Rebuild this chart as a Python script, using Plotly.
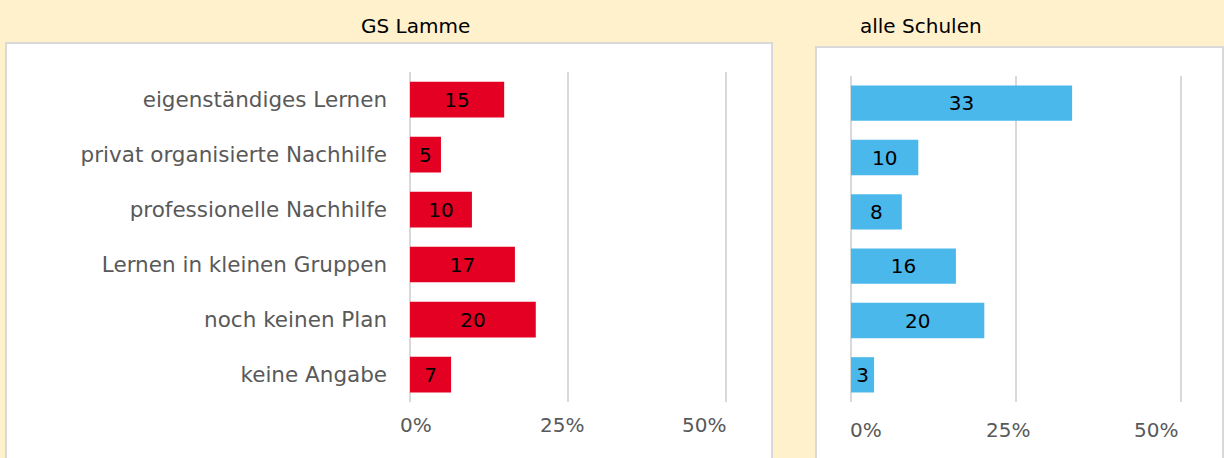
import plotly.graph_objects as go

categories = ["eigenständiges Lernen", "privat organisierte Nachhilfe", "professionelle Nachhilfe",
              "Lernen in kleinen Gruppen", "noch keinen Plan", "keine Angabe"]
lamme_pct = [14.9, 4.9, 9.8, 16.6, 19.9, 6.5]
lamme_labels = ["15", "5", "10", "17", "20", "7"]
alle_pct = [33.5, 10.2, 7.7, 15.9, 20.2, 3.5]
alle_labels = ["33", "10", "8", "16", "20", "3"]
tick_vals = [0, 25, 50]
tick_text = ["0%", "25%", "50%"]

W, H = 1224, 458
def fx(px): return px / W
def fy(py): return 1 - py / H

CREAM = "#FFF1CC"
GRID = "#D9D9D9"
FONT = "DejaVu Sans, sans-serif"

fig = go.Figure()
fig.add_trace(go.Bar(
    x=lamme_pct, y=categories, orientation="h", text=lamme_labels,
    marker=dict(color="#E30022", line=dict(width=0)), width=0.65,
    textposition="inside", insidetextanchor="middle", constraintext="none",
    textfont=dict(color="black", size=20, family=FONT),
    xaxis="x", yaxis="y", hoverinfo="skip", showlegend=False))
fig.add_trace(go.Bar(
    x=alle_pct, y=categories, orientation="h", text=alle_labels,
    marker=dict(color="#4BB8EB", line=dict(width=0)), width=0.65,
    textposition="inside", insidetextanchor="middle", constraintext="none",
    textfont=dict(color="black", size=20, family=FONT),
    xaxis="x2", yaxis="y2", hoverinfo="skip", showlegend=False))

xcommon = dict(range=[-0.3, 50.3], tickvals=tick_vals, showgrid=True, showticklabels=False,
               gridcolor=GRID, gridwidth=2, zeroline=False, showline=False, ticks="",
               fixedrange=True, automargin=False)

# tick labels as annotations (Excel-style inward-shifted labels)
tick_annots = []
for xref, ypx, shifts in (("x", 425, [6, -6, -22]), ("x2", 430, [15, -8, -25])):
    for v, t, s in zip(tick_vals, tick_text, shifts):
        tick_annots.append(dict(text=t, xref=xref, yref="paper", x=v, y=fy(ypx), xshift=s,
                                showarrow=False, xanchor="center", yanchor="middle",
                                font=dict(size=20, color="#595959", family=FONT)))

fig.update_layout(
    width=W, height=H, margin=dict(l=0, r=0, t=0, b=0, pad=0, autoexpand=False),
    paper_bgcolor=CREAM, plot_bgcolor="rgba(0,0,0,0)",
    bargap=0.35,
    xaxis=dict(domain=[fx(408.1), fx(727.9)], anchor="y", **xcommon),
    yaxis=dict(domain=[fy(402), fy(72)], anchor="x", autorange="reversed",
               categoryorder="array", categoryarray=categories,
               showgrid=False, zeroline=False, showline=False, ticks="",
               ticklabelstandoff=20, automargin=False,
               tickfont=dict(size=21.5, color="#595959", family=FONT)),
    xaxis2=dict(domain=[fx(849), fx(1183)], anchor="y2", **xcommon),
    yaxis2=dict(domain=[fy(402), fy(76)], anchor="x2", autorange="reversed",
                categoryorder="array", categoryarray=categories, automargin=False,
                showgrid=False, zeroline=False, showline=False, showticklabels=False),
    shapes=[
        dict(type="rect", xref="paper", yref="paper", x0=fx(6), x1=fx(772), y0=fy(470), y1=fy(43),
             fillcolor="white", line=dict(color=GRID, width=2), layer="below"),
        dict(type="rect", xref="paper", yref="paper", x0=fx(816), x1=fx(1223), y0=fy(470), y1=fy(47),
             fillcolor="white", line=dict(color=GRID, width=2), layer="below"),
    ],
    annotations=[
        dict(text="GS Lamme", xref="paper", yref="paper", x=fx(415), y=fy(26), showarrow=False,
             xanchor="center", yanchor="middle", font=dict(size=20, color="black", family=FONT)),
        dict(text="alle Schulen", xref="paper", yref="paper", x=fx(921), y=fy(26), showarrow=False,
             xanchor="center", yanchor="middle", font=dict(size=20, color="black", family=FONT)),
    ] + tick_annots,
)

fig.write_html("out.html", config={"displayModeBar": False},
               post_script="document.body.style.margin='0';document.body.style.overflow='hidden';")
